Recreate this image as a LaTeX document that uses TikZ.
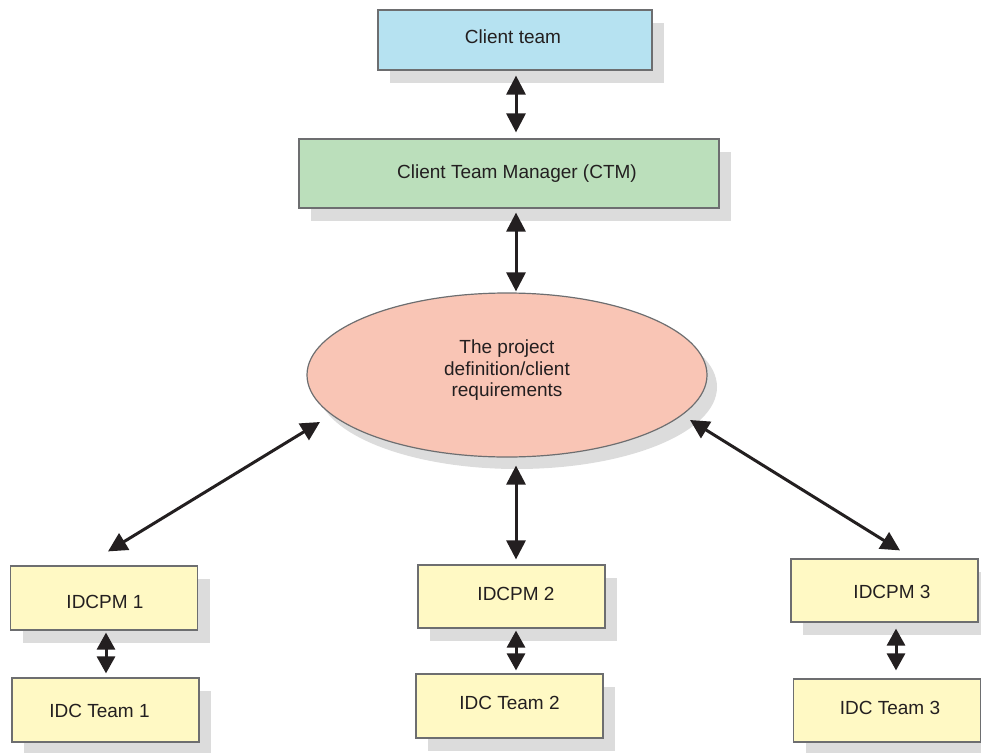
\documentclass[tikz,border=0pt]{standalone}
\usepackage{fontspec}
\setmainfont{Liberation Sans}
\usetikzlibrary{arrows.meta,shadows,calc,shapes.geometric}
\definecolor{inkc}{HTML}{231F20}
\definecolor{edgec}{HTML}{6D6E70}
\definecolor{shadec}{HTML}{DCDCDC}
\definecolor{bluefill}{HTML}{B6E2F1}
\definecolor{greenfill}{HTML}{BBDFBB}
\definecolor{salmonfill}{HTML}{F9C5B5}
\definecolor{yellowfill}{HTML}{FFF9C4}
% a one-line label moved by (#1 right, #2 up) from the box centre
\newcommand{\placetext}[3]{\raisebox{#2}{\makebox[0pt]{\hspace*{#1}\hspace*{#1}#3}}}
\tikzset{
  box/.style={draw=edgec, line width=1.2pt, inner sep=0pt, text=inkc,
    font=\fontsize{19}{21.5}\selectfont, text height=13.6pt, text depth=0pt,
    drop shadow={shadow xshift=12pt, shadow yshift=-13pt, fill=shadec, opacity=1, draw=none}},
  teambox/.style={box, fill=yellowfill, minimum width=187pt, minimum height=64pt},
  link/.style={line width=3pt, draw=inkc, {Triangle[length=19pt,width=19pt]}-{Triangle[length=19pt,width=19pt]}},
  shortlink/.style={line width=3pt, draw=inkc, {Triangle[length=17pt,width=18pt]}-{Triangle[length=17pt,width=18pt]}}
}
\begin{document}
\begin{tikzpicture}[x=1pt,y=-1pt]
\useasboundingbox (0,0) rectangle (981,752);

% top of the hierarchy
\node[box, fill=bluefill, minimum width=274pt, minimum height=60pt] (ct) at (515,40) {\placetext{-2pt}{3pt}{Client team}};
\node[box, fill=greenfill, minimum width=420pt, minimum height=69pt] (ctm) at (509,173.5) {\placetext{8pt}{1.5pt}{Client Team Manager (CTM)}};

% central requirements ellipse
\node[draw=edgec, line width=1.2pt, ellipse, fill=salmonfill, text=inkc,
      minimum width=400pt, minimum height=164pt, inner sep=0pt,
      font=\fontsize{19}{21.5}\selectfont,
      drop shadow={shadow xshift=10pt, shadow yshift=-12pt, fill=shadec, opacity=1, draw=none}]
  (req) at (507,375) {\raisebox{-0.5pt}[0pt][0pt]{\begin{tabular}{@{}c@{}}The project\\definition/client\\requirements\end{tabular}}};

% IDC project managers and their teams
\node[teambox] (pm1) at (104,598) {\placetext{1pt}{-4pt}{IDCPM 1}};
\node[teambox] (tm1) at (105.5,710) {\placetext{-6pt}{-1pt}{IDC Team 1}};
\node[teambox, minimum height=63pt] (pm2) at (511.5,596.5) {\placetext{4.5pt}{2.5pt}{IDCPM 2}};
\node[teambox] (tm2) at (509.5,706) {\placetext{0pt}{3pt}{IDC Team 2}};
\node[teambox, minimum height=63pt] (pm3) at (884.5,590.5) {\placetext{7.5pt}{-1.5pt}{IDCPM 3}};
\node[teambox, minimum height=63pt] (tm3) at (887,710.5) {\placetext{3pt}{2.5pt}{IDC Team 3}};

% two-way communication links
\draw[link] ($(ct.south)+(1,5)$) -- ($(ctm.north)+(7,-6)$);
\draw[link] ($(ctm.south)+(7,4)$) -- ($(req.north)+(9,-1)$);
\draw[link] ($(req.center)+(-187,47)$) -- ($(pm1.north)+(4,-14)$);
\draw[link] ($(req.south)+(9,8)$) -- ($(pm2.north)+(4.5,-5)$);
\draw[link] ($(req.center)+(183,45)$) -- ($(pm3.north)+(15.5,-8)$);

\draw[shortlink] ($(pm1.south)+(2,2)$) -- ($(tm1.north)+(0.5,-4)$);
\draw[shortlink] ($(pm2.south)+(4.5,2)$) -- ($(tm2.north)+(6.5,-3)$);
\draw[shortlink] ($(pm3.south)+(11.5,6)$) -- ($(tm3.north)+(9,-8)$);
\end{tikzpicture}
\end{document}
